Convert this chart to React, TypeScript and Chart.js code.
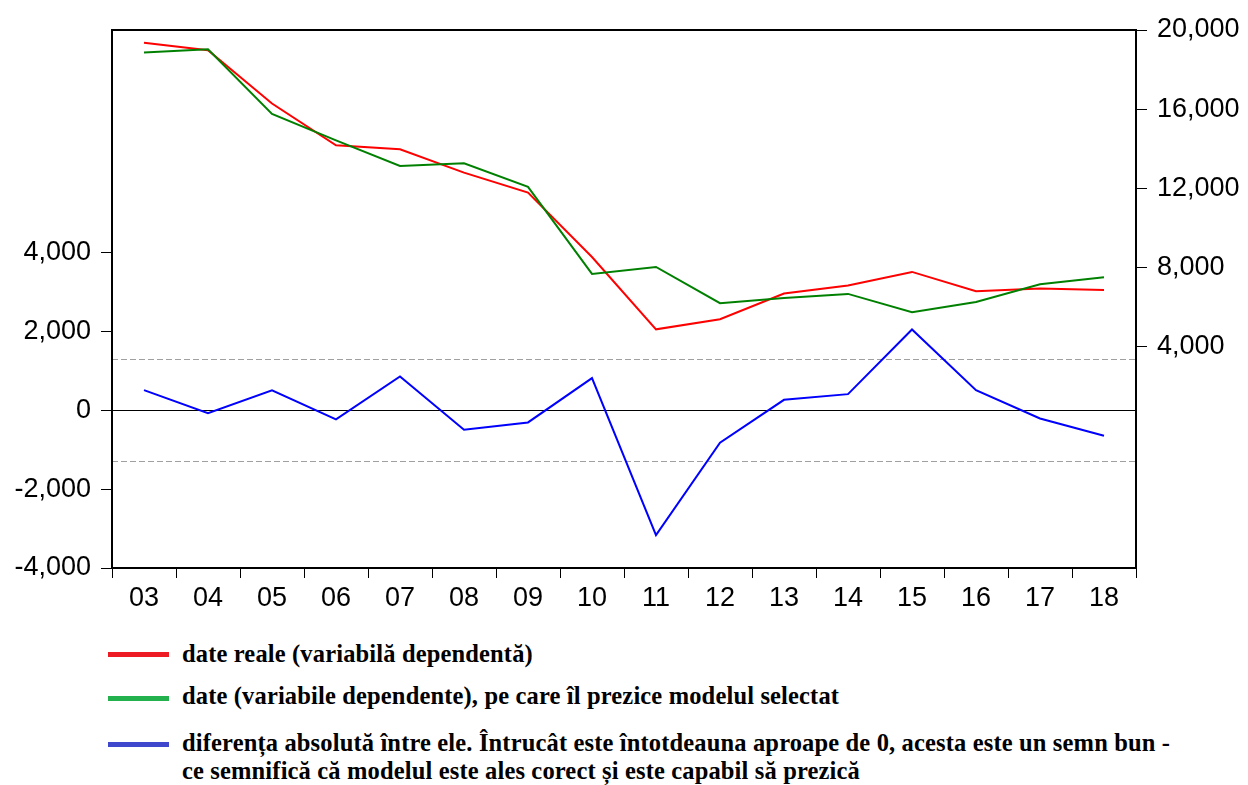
import React, { useEffect, useRef } from 'react';
import { Chart, registerables } from 'chart.js';

Chart.register(...registerables);

// ---- data ----
const years = ['03', '04', '05', '06', '07', '08', '09', '10', '11', '12', '13', '14', '15', '16', '17', '18'];
const actual = [19360, 18980, 16290, 14180, 13980, 12800, 11790, 8540, 4890, 5400, 6700, 7100, 7790, 6810, 6950, 6880];
const fitted = [18860, 19030, 15760, 14430, 13140, 13270, 12080, 7690, 8040, 6210, 6470, 6680, 5750, 6270, 7170, 7520];
const residual = [506, -76, 499, -236, 853, -498, -312, 810, -3165, -827, 261, 405, 2043, 506, -211, -650];
const leftTicks = [-4000, -2000, 0, 2000, 4000];
const rightTicks = [4000, 8000, 12000, 16000, 20000];
const bandValue = 1290;

const legendItems = [
  { color: '#ED1C24', lines: ['date reale (variabilă dependentă)'] },
  { color: '#22B14C', lines: ['date (variabile dependente), pe care îl prezice modelul selectat'] },
  {
    color: '#3F48CC',
    lines: [
      'diferența absolută între ele. Întrucât este întotdeauna aproape de 0, acesta este un semn bun -',
      'ce semnifică că modelul este ales corect și este capabil să prezică',
    ],
  },
];

const tickFont = { family: '"Liberation Sans", Arial, sans-serif', size: 27 };

const framePlugin = {
  id: 'frame',
  beforeDatasetsDraw(chart: any) {
    const { ctx, chartArea: a, scales } = chart;
    const y = scales.y;
    ctx.save();
    ctx.lineWidth = 1;
    ctx.strokeStyle = '#a0a0a0';
    ctx.setLineDash([6, 3]);
    for (const v of [bandValue, -bandValue]) {
      const py = Math.round(y.getPixelForValue(v)) + 0.5;
      ctx.beginPath();
      ctx.moveTo(a.left, py);
      ctx.lineTo(a.right, py);
      ctx.stroke();
    }
    ctx.setLineDash([]);
    ctx.strokeStyle = '#000';
    const z = Math.round(y.getPixelForValue(0)) + 0.5;
    ctx.beginPath();
    ctx.moveTo(a.left, z);
    ctx.lineTo(a.right, z);
    ctx.stroke();
    ctx.restore();
  },
  afterDraw(chart: any) {
    const { ctx, chartArea: a } = chart;
    ctx.save();
    ctx.strokeStyle = '#000';
    ctx.lineWidth = 2;
    ctx.strokeRect(a.left, a.top, a.right - a.left, a.bottom - a.top);
    ctx.restore();
  },
};

export default function App() {
  const ref = useRef<HTMLCanvasElement>(null);

  useEffect(() => {
    if (!ref.current) return;
    const chart = new Chart(ref.current, {
      type: 'line',
      data: {
        labels: years,
        datasets: [
          { label: 'Actual', data: actual, borderColor: '#ff0000', borderWidth: 2, pointRadius: 0, tension: 0, yAxisID: 'y1', order: 2 },
          { label: 'Fitted', data: fitted, borderColor: '#008000', borderWidth: 2, pointRadius: 0, tension: 0, yAxisID: 'y1', order: 1 },
          { label: 'Residual', data: residual, borderColor: '#0000ff', borderWidth: 2, pointRadius: 0, tension: 0, yAxisID: 'y', order: 0 },
        ],
      },
      options: {
        responsive: false,
        animation: false,
        devicePixelRatio: 1,
        layout: { padding: { top: 30, left: 0, right: 0, bottom: 0 } },
        plugins: { legend: { display: false }, tooltip: { enabled: false } },
        scales: {
          x: {
            type: 'category',
            offset: true,
            grid: { offset: true, drawOnChartArea: false, drawTicks: true, tickLength: 10, color: '#000', lineWidth: 1 },
            border: { display: true, color: '#000', width: 2 },
            ticks: { color: '#000', font: tickFont, padding: 4, autoSkip: false, maxRotation: 0 },
            afterFit: (s: any) => { s.height = 52; },
          },
          y: {
            position: 'left',
            min: -4000,
            max: 9630,
            afterBuildTicks: (s: any) => { s.ticks = leftTicks.map((v) => ({ value: v })); },
            grid: { drawOnChartArea: false, drawTicks: true, tickLength: 11, color: '#000', lineWidth: 1 },
            border: { display: true, color: '#000', width: 2 },
            ticks: { color: '#000', font: tickFont, padding: 10, callback: (v: any) => Number(v).toLocaleString('en-US') },
            afterFit: (s: any) => { s.width = 112; },
          },
          y1: {
            position: 'right',
            min: -7155,
            max: 20000,
            afterBuildTicks: (s: any) => { s.ticks = rightTicks.map((v) => ({ value: v })); },
            grid: { drawOnChartArea: false, drawTicks: true, tickLength: 11, color: '#000', lineWidth: 1 },
            border: { display: true, color: '#000', width: 2 },
            ticks: { color: '#000', font: tickFont, padding: 10, callback: (v: any) => Number(v).toLocaleString('en-US') },
            afterFit: (s: any) => { s.width = 112; },
          },
        },
      } as any,
      plugins: [framePlugin],
    });
    return () => chart.destroy();
  }, []);

  const rowTops = [639.5, 681.5, 729];
  const swatchCenters = [654, 698, 744];

  return (
    <div style={{ position: 'absolute', left: 0, top: 0, width: 1248, height: 785, background: '#fff', overflow: 'hidden' }}>
      <canvas ref={ref} width={1248} height={620} style={{ display: 'block', width: 1248, height: 620 }} />
      {legendItems.map((item, i) => (
        <React.Fragment key={i}>
          <div
            style={{
              position: 'absolute',
              left: 108,
              top: swatchCenters[i] - 2.5,
              width: 61,
              height: 5,
              background: item.color,
            }}
          />
          <div
            style={{
              position: 'absolute',
              left: 182,
              top: rowTops[i],
              fontFamily: '"Liberation Serif", "Times New Roman", serif',
              fontWeight: 'bold',
              fontSize: 24.5,
              letterSpacing: '0.15px',
              lineHeight: '28.3px',
              color: '#000',
              whiteSpace: 'nowrap',
            }}
          >
            {item.lines.map((l, j) => (
              <div key={j}>{l}</div>
            ))}
          </div>
        </React.Fragment>
      ))}
    </div>
  );
}
